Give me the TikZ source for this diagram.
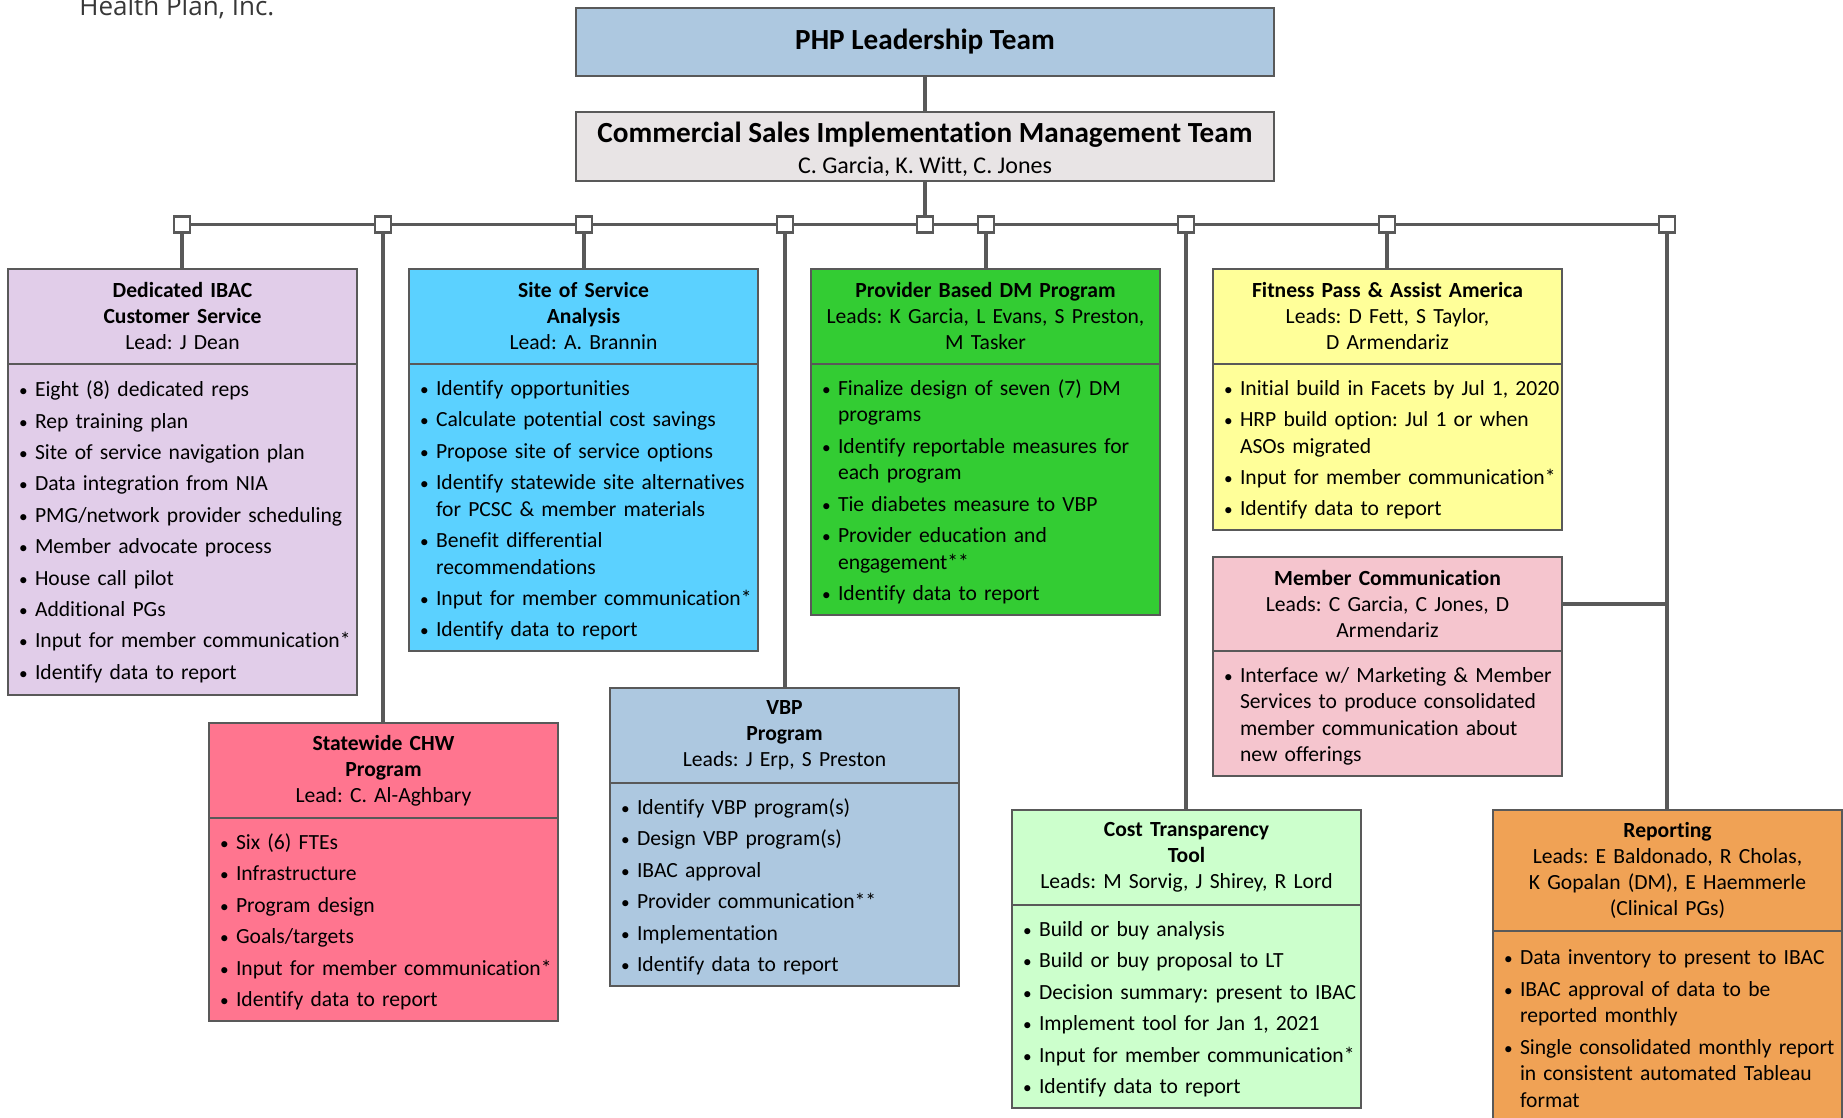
\documentclass[tikz,border=0pt]{standalone}
\usepackage{fontspec}
\setmainfont{Carlito}[Ligatures=NoCommon]
\newfontfamily\logofont{Open Sans}
\usepackage{enumitem}
\usetikzlibrary{positioning}
\frenchspacing

\definecolor{lineGray}{RGB}{89, 89, 89}
\definecolor{logoGray}{RGB}{55, 55, 55}
\definecolor{ltBlue}{RGB}{173, 200, 224}
\definecolor{ltGray}{RGB}{232, 228, 229}
\definecolor{lavender}{RGB}{225, 205, 233}
\definecolor{skyCyan}{RGB}{91, 209, 255}
\definecolor{dmGreen}{RGB}{51, 204, 51}
\definecolor{paleYellow}{RGB}{255, 255, 153}
\definecolor{palePink}{RGB}{245, 197, 206}
\definecolor{chwPink}{RGB}{255, 117, 143}
\definecolor{paleGreen}{RGB}{204, 255, 204}
\definecolor{repOrange}{RGB}{240, 162, 85}

% bullet list used in the lower half of every box
\newcommand{\tasks}[1]{%
  \begin{itemize}[label={\scalebox{0.8}{\textbullet}}, leftmargin=13.5pt, labelsep=3.6pt,
      itemsep=2.4pt, parsep=0pt, topsep=0pt, partopsep=0pt]
  #1
  \end{itemize}\vspace{3pt}\hrule height 0pt}

\tikzset{
  cell/.style={draw=lineGray, line width=1.3pt, outer sep=0pt,
    inner ysep=3pt, minimum width=174.5pt, minimum height=47.5pt},
  hdr/.style={cell, fill=#1, inner xsep=4pt, text width=166.5pt, align=center,
    font=\fontsize{10.8}{13}\selectfont},
  body/.style={cell, fill=#1, inner xsep=0pt, inner ysep=0pt, text width=174.5pt,
    align=left, font=\fontsize{10.8}{13.3}\selectfont},
  topbox/.style={draw=lineGray, line width=1.3pt, outer sep=0pt, inner ysep=1pt,
    minimum width=349pt, align=center},
  conn/.style={draw=lineGray, line width=1.8pt},
  junc/.style={draw=lineGray, line width=1.3pt, fill=white,
    minimum size=8pt, inner sep=0pt, outer sep=0pt}
}

\begin{document}
\begin{tikzpicture}[x=0.5pt, y=-0.5pt]
  \useasboundingbox (0,0) rectangle (1843,1118);

  \node[anchor=base west, inner sep=0pt, text=logoGray,
    font=\logofont\fontsize{13}{15}\selectfont] (logo) at (79,16) {Health Plan, Inc.};

  % leadership
  \node[topbox, fill=ltBlue, minimum height=34pt,
    font=\bfseries\fontsize{14.6}{16}\selectfont] (php) at (925,42) {PHP Leadership Team};
  \node[topbox, fill=ltGray, minimum height=34.5pt] (csim) at (925,146.5)
    {{\bfseries\fontsize{14.6}{17}\selectfont\rule{0pt}{13.5pt}Commercial Sales Implementation Management Team}\\[3.5pt]
     {\fontsize{12}{13}\selectfont C. Garcia, K. Witt, C. Jones}};

  % first row
  \node[hdr=lavender, anchor=north west] (ibacH) at (8,269)
    {\textbf{Dedicated IBAC}\\ \textbf{Customer Service}\\ Lead: J Dean};
  \node[body=lavender, minimum height=165.5pt, below=0pt of ibacH] (ibacB) {\tasks{
    \item Eight (8) dedicated reps
    \item Rep training plan
    \item Site of service navigation plan
    \item Data integration from NIA
    \item PMG/network provider scheduling
    \item Member advocate process
    \item House call pilot
    \item Additional PGs
    \item Input for member communication*
    \item Identify data to report}};

  \node[hdr=skyCyan, anchor=north west] (sosH) at (409,269)
    {\textbf{Site of Service}\\ \textbf{Analysis}\\ Lead: A. Brannin};
  \node[body=skyCyan, minimum height=143.5pt, below=0pt of sosH] (sosB) {\tasks{
    \item Identify opportunities
    \item Calculate potential cost savings
    \item Propose site of service options
    \item Identify statewide site alternatives\newline for PCSC \& member materials
    \item Benefit differential\newline recommendations
    \item Input for member communication*
    \item Identify data to report}};

  \node[hdr=dmGreen, anchor=north west] (dmH) at (811,269)
    {\textbf{Provider Based DM Program}\\ Leads: K Garcia, L Evans, S Preston,\\ M Tasker};
  \node[body=dmGreen, minimum height=125.5pt, below=0pt of dmH] (dmB) {\tasks{
    \item Finalize design of seven (7) DM\newline programs
    \item Identify reportable measures for\newline each program
    \item Tie diabetes measure to VBP
    \item Provider education and\newline engagement**
    \item Identify data to report}};

  \node[hdr=paleYellow, anchor=north west] (fitH) at (1213,269)
    {\textbf{Fitness Pass \& Assist America}\\ Leads: D Fett, S Taylor,\\ D Armendariz};
  \node[body=paleYellow, minimum height=83pt, below=0pt of fitH] (fitB) {\tasks{
    \item Initial build in Facets by Jul~1,~2020
    \item HRP build option: Jul 1 or when\newline ASOs migrated
    \item Input for member communication*
    \item Identify data to report}};

  \node[hdr=palePink, minimum height=47pt, anchor=north west] (memH) at (1213,557)
    {\textbf{Member Communication}\\ Leads: C Garcia, C Jones, D\\ Armendariz};
  \node[body=palePink, minimum height=62.5pt, below=0pt of memH] (memB) {\tasks{
    \item Interface w/ Marketing \& Member\newline Services to produce consolidated\newline
      member communication about\newline new offerings}};

  % second row
  \node[hdr=chwPink, anchor=north west] (chwH) at (209,723)
    {\textbf{Statewide CHW}\\ \textbf{Program}\\ Lead: C. Al-Aghbary};
  \node[body=chwPink, minimum height=101.5pt, below=0pt of chwH] (chwB) {\tasks{
    \item Six (6) FTEs
    \item Infrastructure
    \item Program design
    \item Goals/targets
    \item Input for member communication*
    \item Identify data to report}};

  \node[hdr=ltBlue, anchor=north west] (vbpH) at (610,688)
    {\textbf{VBP}\\ \textbf{Program}\\ Leads: J Erp, S Preston};
  \node[body=ltBlue, minimum height=101.5pt, below=0pt of vbpH] (vbpB) {\tasks{
    \item Identify VBP program(s)
    \item Design VBP program(s)
    \item IBAC approval
    \item Provider communication**
    \item Implementation
    \item Identify data to report}};

  \node[hdr=paleGreen, anchor=north west] (costH) at (1012,810)
    {\textbf{Cost Transparency}\\ \textbf{Tool}\\ Leads: M Sorvig, J Shirey, R Lord};
  \node[body=paleGreen, minimum height=101.5pt, below=0pt of costH] (costB) {\tasks{
    \item Build or buy analysis
    \item Build or buy proposal to LT
    \item Decision summary: present to IBAC
    \item Implement tool for Jan 1, 2021
    \item Input for member communication*
    \item Identify data to report}};

  \node[hdr=repOrange, minimum height=60.5pt, anchor=north west] (repH) at (1493,810)
    {\textbf{Reporting}\\ Leads: E Baldonado, R Cholas,\\ K Gopalan (DM), E Haemmerle\\ (Clinical PGs)};
  \node[body=repOrange, minimum height=95pt, below=0pt of repH] (repB) {\tasks{
    \item Data inventory to present to IBAC
    \item IBAC approval of data to be\newline reported monthly
    \item Single consolidated monthly report\newline in consistent automated Tableau\newline format}};

  % connectors
  \foreach \n/\x in {1/182, 2/383, 3/584, 4/785, 5/925, 6/986, 7/1186, 8/1387, 9/1667}
    \coordinate (b\n) at (\x,224.5);
  \draw[conn] (php) -- (csim);
  \draw[conn] (csim) -- (b5);
  \draw[conn] (b1) -- (b9);
  \draw[conn] (b1) -- (b1 |- ibacH.north);
  \draw[conn] (b2) -- (b2 |- chwH.north);
  \draw[conn] (b3) -- (b3 |- sosH.north);
  \draw[conn] (b4) -- (b4 |- vbpH.north);
  \draw[conn] (b6) -- (b6 |- dmH.north);
  \draw[conn] (b7) -- (b7 |- costH.north);
  \draw[conn] (b8) -- (b8 |- fitH.north);
  \draw[conn] (b9) -- (b9 |- repH.north);
  \draw[conn] (memH.east) -- (memH.east -| b9);
  \foreach \n in {1,...,9}
    \node[junc] (j\n) at (b\n) {};
\end{tikzpicture}
\end{document}
